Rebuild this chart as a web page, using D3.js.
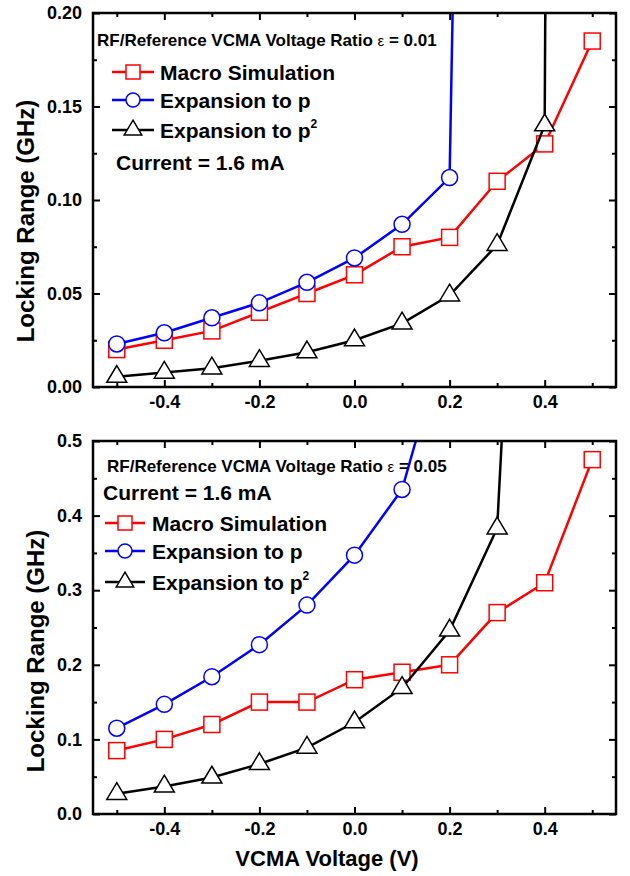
<!DOCTYPE html>
<html>
<head>
<meta charset="utf-8">
<script src="https://cdnjs.cloudflare.com/ajax/libs/d3/7.8.5/d3.min.js"></script>
<style>
body { margin: 0; background: #fff; }
svg { display: block; font-family: Arial, "Liberation Sans", sans-serif; font-weight: bold; }
</style>
</head>
<body>
<svg id="chart" width="630" height="876"></svg>
<script>
// VCMA voltage (V)
var voltage = [-0.5, -0.4, -0.3, -0.2, -0.1, 0.0, 0.1, 0.2, 0.3, 0.4, 0.5];

// ratio 0.01 panel (GHz)
var macroTop = [0.020, 0.025, 0.030, 0.040, 0.050, 0.060, 0.075, 0.080, 0.110, 0.130, 0.185];
var expPTop = [0.023, 0.029, 0.037, 0.045, 0.056, 0.069, 0.087, 0.112, 1.5];
var expP2Top = [0.0055, 0.0077, 0.010, 0.014, 0.0186, 0.025, 0.034, 0.049, 0.076, 0.140, 5.0];

// ratio 0.05 panel (GHz)
var macroBot = [0.085, 0.100, 0.120, 0.150, 0.150, 0.180, 0.190, 0.200, 0.270, 0.310, 0.475];
var expPBot = [0.115, 0.147, 0.184, 0.227, 0.280, 0.347, 0.435, 0.660];
var expP2Bot = [0.027, 0.037, 0.049, 0.067, 0.089, 0.123, 0.169, 0.246, 0.383, 1.6];

// ticks
var xTicks = [-0.4, -0.2, 0.0, 0.2, 0.4];
var xMinor = [-0.5, -0.3, -0.1, 0.1, 0.3, 0.5];
var yTicksTop = [0, 0.05, 0.10, 0.15, 0.20];
var yMinorTop = [0.025, 0.075, 0.125, 0.175];
var yTicksBot = [0, 0.1, 0.2, 0.3, 0.4, 0.5];
var yMinorBot = [0.05, 0.15, 0.25, 0.35, 0.45];

var seriesNames = ["Macro Simulation", "Expansion to p", "Expansion to p"];
var seriesColors = ["#ff0000", "#0000ff", "#000000"];
var seriesShapes = ["square", "circle", "triangle"];

var svg = d3.select("#chart");
var left = 93, right = 616;

var x = d3.scaleLinear().domain([-0.55, 0.55]).range([left, right]);

function fmt(f) {
    var base = d3.format(f);
    return function (d) { return base(d).replace("\u2212", "-"); };
}

function marker(sel, shape, color, size) {
    var g;
    if (shape == "square") {
        g = sel.append("rect")
            .attr("x", -size / 2).attr("y", -size / 2)
            .attr("width", size).attr("height", size);
    } else if (shape == "circle") {
        g = sel.append("circle").attr("r", size / 2);
    } else {
        var w = size * 1.25, h = size * 1.05;
        g = sel.append("path")
            .attr("d", "M0," + (-2 * h / 3) + "L" + (w / 2) + "," + (h / 3) + "L" + (-w / 2) + "," + (h / 3) + "Z");
    }
    g.attr("fill", "#fff").attr("stroke", color).attr("stroke-width", 1.5);
}

function drawPanel(cfg) {
    var y = d3.scaleLinear().domain([0, cfg.yMax]).range([cfg.bottom, cfg.top]);
    var g = svg.append("g");

    var clipId = "clip" + cfg.id;
    g.append("clipPath").attr("id", clipId)
        .append("rect")
        .attr("x", left).attr("y", cfg.top)
        .attr("width", right - left).attr("height", cfg.bottom - cfg.top);

    // axes, ticks pointing inside
    var axes = [
        [d3.axisBottom(x).tickValues(xTicks).tickSize(-7).tickPadding(8).tickFormat(fmt(".1f")), "translate(0," + cfg.bottom + ")"],
        [d3.axisBottom(x).tickValues(xMinor).tickSize(-4).tickFormat(""), "translate(0," + cfg.bottom + ")"],
        [d3.axisTop(x).tickValues(xTicks).tickSize(-7).tickFormat(""), "translate(0," + cfg.top + ")"],
        [d3.axisTop(x).tickValues(xMinor).tickSize(-4).tickFormat(""), "translate(0," + cfg.top + ")"],
        [d3.axisLeft(y).tickValues(cfg.yTicks).tickSize(-7).tickPadding(11).tickFormat(fmt(cfg.yFmt)), "translate(" + left + ",0)"],
        [d3.axisLeft(y).tickValues(cfg.yMinor).tickSize(-4).tickFormat(""), "translate(" + left + ",0)"],
        [d3.axisRight(y).tickValues(cfg.yTicks).tickSize(-7).tickFormat(""), "translate(" + right + ",0)"],
        [d3.axisRight(y).tickValues(cfg.yMinor).tickSize(-4).tickFormat(""), "translate(" + right + ",0)"]
    ];
    axes.forEach(function (a) {
        var ax = g.append("g").attr("transform", a[1]).call(a[0]);
        ax.select(".domain").remove();
        ax.selectAll("line").attr("stroke", "#000").attr("stroke-width", 2);
        ax.attr("font-family", null).attr("font-size", 18).attr("font-weight", "bold");
        ax.selectAll("text").attr("fill", "#000");
    });

    // series
    var data = [cfg.macro, cfg.expP, cfg.expP2];
    var plot = g.append("g").attr("clip-path", "url(#" + clipId + ")");
    data.forEach(function (vals, k) {
        var pts = vals.map(function (v, i) { return [voltage[i], v]; });
        var line = d3.line().x(function (d) { return x(d[0]); }).y(function (d) { return y(d[1]); });
        plot.append("path")
            .attr("d", line(pts))
            .attr("fill", "none")
            .attr("stroke", seriesColors[k])
            .attr("stroke-width", 2.5);
        plot.selectAll(null)
            .data(pts)
            .enter()
            .append("g")
            .attr("transform", function (d) { return "translate(" + x(d[0]) + "," + y(d[1]) + ")"; })
            .each(function () { marker(d3.select(this), seriesShapes[k], seriesColors[k], 16); });
    });

    // frame
    g.append("rect")
        .attr("x", left).attr("y", cfg.top)
        .attr("width", right - left).attr("height", cfg.bottom - cfg.top)
        .attr("fill", "none").attr("stroke", "#000").attr("stroke-width", 2.5);

    // y title
    g.append("text")
        .attr("transform", "translate(" + cfg.yTitleX + "," + cfg.yTitleY + ") rotate(-90)")
        .attr("text-anchor", "middle")
        .attr("font-size", 24)
        .text("Locking Range (GHz)");

    // ratio label
    var t = g.append("text")
        .attr("x", cfg.ratioX).attr("y", cfg.ratioY)
        .attr("font-size", 17);
    t.append("tspan").text("RF/Reference VCMA Voltage Ratio ");
    t.append("tspan").attr("font-size", 15).attr("font-weight", "normal").text("\u03b5");
    t.append("tspan").text(" = " + cfg.ratio);

    g.append("text")
        .attr("x", cfg.currentX).attr("y", cfg.currentY)
        .attr("font-size", 21)
        .text("Current = 1.6 mA");

    // legend
    seriesNames.forEach(function (name, k) {
        var ly = cfg.legendY[k];
        g.append("line")
            .attr("x1", cfg.legendX[0]).attr("x2", cfg.legendX[2])
            .attr("y1", ly).attr("y2", ly)
            .attr("stroke", seriesColors[k]).attr("stroke-width", 2.5);
        var m = g.append("g").attr("transform", "translate(" + cfg.legendX[1] + "," + ly + ")");
        marker(m, seriesShapes[k], seriesColors[k], 14);
        var lt = g.append("text")
            .attr("x", cfg.legendX[3]).attr("y", ly + 7.5)
            .attr("font-size", 21)
            .text(name);
        if (k == 2) {
            lt.append("tspan").attr("font-size", 12).attr("dy", -10).text("2");
        }
    });
}

drawPanel({
    id: "top", top: 13, bottom: 387, yMax: 0.2,
    yTicks: yTicksTop, yMinor: yMinorTop, yFmt: ".2f",
    macro: macroTop, expP: expPTop, expP2: expP2Top,
    yTitleX: 34, yTitleY: 221,
    ratio: "0.01", ratioX: 97, ratioY: 46,
    currentX: 116, currentY: 170,
    legendX: [112, 133, 154, 160], legendY: [72, 100, 130]
});

drawPanel({
    id: "bot", top: 441, bottom: 814, yMax: 0.5,
    yTicks: yTicksBot, yMinor: yMinorBot, yFmt: ".1f",
    macro: macroBot, expP: expPBot, expP2: expP2Bot,
    yTitleX: 44, yTitleY: 651,
    ratio: "0.05", ratioX: 107, ratioY: 472,
    currentX: 103, currentY: 500,
    legendX: [105, 125, 145, 152], legendY: [523, 551, 582]
});

// x title
svg.append("text")
    .attr("x", 327).attr("y", 866)
    .attr("text-anchor", "middle")
    .attr("font-size", 22)
    .text("VCMA Voltage (V)");
</script>
</body>
</html>
